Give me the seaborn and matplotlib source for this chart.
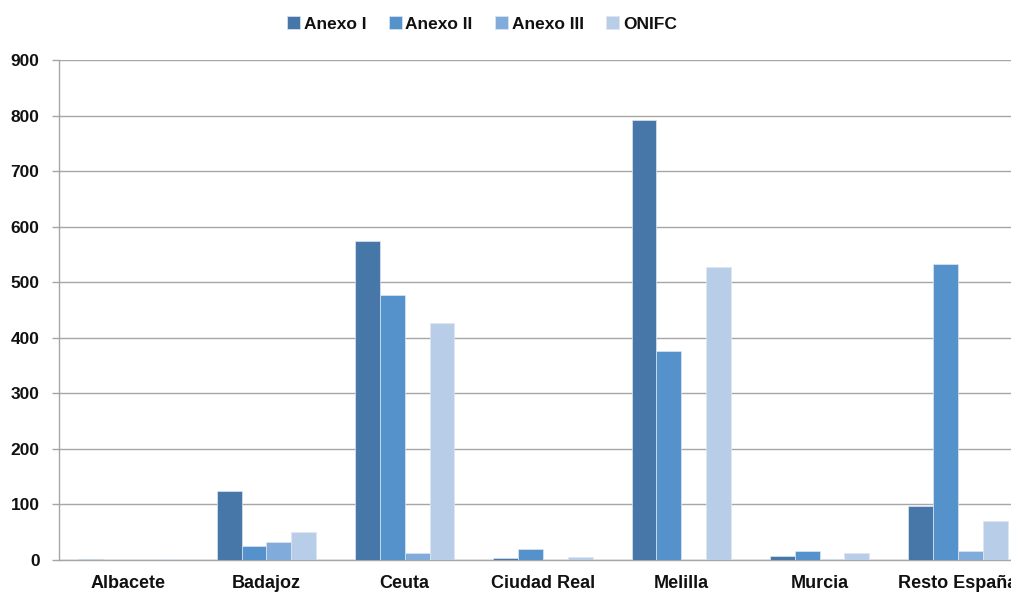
import matplotlib
matplotlib.use("Agg")
import matplotlib.pyplot as plt
import seaborn as sns
import pandas as pd

# Provinces and the four series
provincias = ["Albacete", "Badajoz", "Ceuta", "Ciudad Real", "Melilla", "Murcia", "Resto España"]
series = ["Anexo I", "Anexo II", "Anexo III", "ONIFC"]
anexo_i = [2, 125, 575, 3, 792, 8, 97]
anexo_ii = [0, 26, 477, 20, 377, 16, 533]
anexo_iii = [0, 33, 12, 0, 0, 2, 16]
onifc = [2, 50, 427, 5, 527, 12, 71]
y_ticks = [0, 100, 200, 300, 400, 500, 600, 700, 800, 900]

colores = ["#4677A8", "#5592CB", "#80ABDB", "#B8CDE8"]

rows = []
for name, vals in zip(series, [anexo_i, anexo_ii, anexo_iii, onifc]):
    for prov, v in zip(provincias, vals):
        rows.append({"Provincia": prov, "Serie": name, "Valor": v})
df = pd.DataFrame(rows)

sns.set_theme(style="white")
plt.rcParams["font.family"] = ["Liberation Sans", "DejaVu Sans"]

fig = plt.figure(figsize=(10.12, 5.92), dpi=100)
ax = fig.add_axes([59 / 1012, 32 / 592, 968 / 1012, 500 / 592])

sns.barplot(data=df, x="Provincia", y="Valor", hue="Serie", order=provincias,
            hue_order=series, palette=colores, saturation=1, width=0.72, ax=ax,
            edgecolor="#dde6f0", linewidth=0.5, errorbar=None, zorder=3)

TXT = "#111111"
ax.set_ylim(0, 900)
ax.set_yticks(y_ticks)
ax.set_yticklabels([str(t) for t in y_ticks], fontsize=12.5, fontweight="bold", color=TXT)
ax.set_xlim(-0.5, len(provincias) - 0.5)
ax.set_xlabel("")
ax.set_ylabel("")
for lbl in ax.get_xticklabels():
    lbl.set_fontsize(13)
    lbl.set_fontweight("bold")
    lbl.set_color(TXT)
ax.tick_params(axis="x", length=0, pad=11)
ax.tick_params(axis="y", length=5, width=1.0, color="#a6a6a6", direction="out", pad=9, left=True)

ax.yaxis.grid(True, color="#a6a6a6", linewidth=1.0, zorder=0)
ax.set_axisbelow(True)
for side in ["top", "right"]:
    ax.spines[side].set_visible(False)
for side in ["left", "bottom"]:
    ax.spines[side].set_color("#a6a6a6")
    ax.spines[side].set_linewidth(1.0)

handles, labels = ax.get_legend_handles_labels()
ax.legend_.remove()
leg = fig.legend(handles, labels, loc="center", bbox_to_anchor=(482 / 1012, 1 - 24 / 592),
                 ncol=4, frameon=False, handlelength=0.75, handleheight=0.75,
                 handletextpad=0.2, columnspacing=1.3,
                 prop={"size": 12.5, "weight": "bold"})
for t in leg.get_texts():
    t.set_color(TXT)

fig.savefig("out.png", dpi=100)
